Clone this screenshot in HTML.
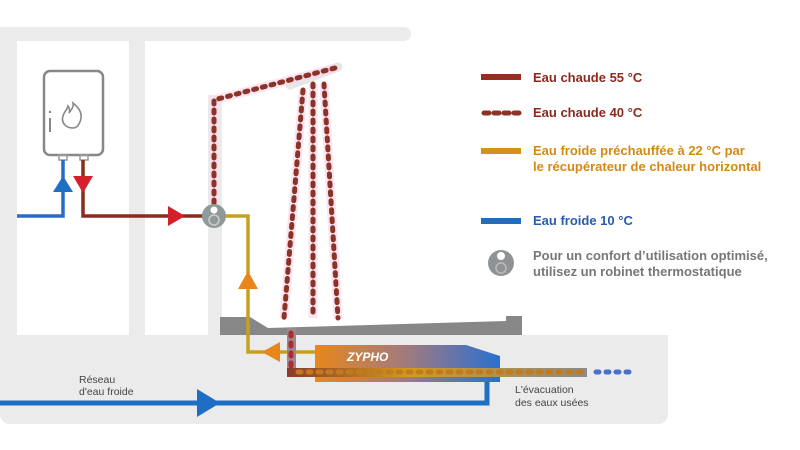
<!DOCTYPE html>
<html><head><meta charset="utf-8"><style>
html,body{margin:0;padding:0;background:#fff;width:800px;height:450px;overflow:hidden}
svg{display:block}
text{font-family:"Liberation Sans",sans-serif}
</style></head><body>
<svg width="800" height="450" viewBox="0 0 800 450" xmlns="http://www.w3.org/2000/svg">
<defs>
<linearGradient id="zg" x1="0" x2="1" y1="0" y2="0">
<stop offset="0" stop-color="#e8861c"/><stop offset="0.5" stop-color="#a07a80"/><stop offset="1" stop-color="#2a6fd0"/>
</linearGradient>
<linearGradient id="dg" x1="0" x2="1" y1="0" y2="0">
<stop offset="0" stop-color="#8a3b2a"/><stop offset="0.4" stop-color="#d49a1a"/><stop offset="1" stop-color="#8a8a8a"/>
</linearGradient>
</defs>
<path d="M0 27 H404 a7 7 0 0 1 0 14 H145 V335 H129 V41 H17 V335 H0 Z" fill="#ebebeb"/>
<rect x="208" y="95" width="14" height="240" fill="#ebebeb"/>
<path d="M0 335 H668 V414 a10 10 0 0 1 -10 10 H10 a10 10 0 0 1 -10 -10 Z" fill="#ebebeb"/>
<path d="M220 317 H250 L268 328 L506 321 V316 H522 V335 H220 Z" fill="#878787"/>
<path d="M290 85 L338 67" stroke="#e6e6e6" stroke-width="9" stroke-linecap="round"/>
<rect x="44" y="71" width="59" height="84" rx="6" fill="#fff" stroke="#888" stroke-width="2.5"/>
<line x1="50" y1="118" x2="50" y2="132" stroke="#888" stroke-width="2"/>
<circle cx="50" cy="112" r="1.2" fill="#888"/>
<path d="M73 128 c-8 0 -12 -6 -10 -12 c1 -4 4 -6 5 -10 c2 3 2 5 1 7 c2 -3 5 -6 4 -10 c5 4 9 9 8 15 c-1 6 -4 10 -8 10 Z" fill="none" stroke="#888" stroke-width="1.6"/>
<rect x="59" y="155" width="8" height="5" fill="none" stroke="#999" stroke-width="1.5"/>
<rect x="80" y="155" width="8" height="5" fill="none" stroke="#999" stroke-width="1.5"/>
<polyline points="17,216 63,216 63,160" fill="none" stroke="#2a6ac8" stroke-width="3.5"/>
<polygon points="53,192 73,192 63,176" fill="#1e6fc4"/>
<polyline points="83,160 83,216 205,216" fill="none" stroke="#8c2a20" stroke-width="3.5"/>
<polygon points="73,176 93,176 83,193" fill="#d4202a"/>
<polygon points="168,206 168,226 185,216" fill="#d4202a"/>
<polyline points="222,216 248,216 248,352 316,352" fill="none" stroke="#c8a020" stroke-width="3.5"/>
<polygon points="238,289 258,289 248,271" fill="#e8861c"/>
<polygon points="280,342 280,362 262,352" fill="#e8861c"/>
<g fill="none" stroke="#fbd8ec" stroke-width="9" opacity="0.7">
<polyline points="214,203 214,100 335,68"/>
<line x1="303" y1="90" x2="284" y2="318"/>
<line x1="313" y1="84" x2="313" y2="318"/>
<line x1="324" y1="84" x2="338" y2="318"/>
</g>
<g fill="none" stroke="#8a3326" stroke-width="5" stroke-dasharray="3 6" stroke-linecap="round">
<polyline points="214,203 214,100 335,68"/>
<line x1="303" y1="90" x2="284" y2="318"/>
<line x1="313" y1="84" x2="313" y2="318"/>
<line x1="324" y1="84" x2="338" y2="318"/>
</g>
<path d="M315 345 H466 L500 356 V382 H315 Z" fill="url(#zg)"/>
<text x="347" y="361" font-size="12" font-weight="bold" font-style="italic" fill="#fff">ZYPHO</text>
<rect x="287" y="328" width="9" height="48" fill="#9a8890"/>
<rect x="287" y="368" width="300" height="9" fill="url(#dg)"/>
<g fill="none" stroke-width="5" stroke-dasharray="3 7" stroke-linecap="round">
<line x1="291" y1="333" x2="291" y2="368" stroke="#b02a30"/>
<line x1="298" y1="372" x2="587" y2="372" stroke="#c07a20"/>
<line x1="596" y1="372" x2="632" y2="372" stroke="#4a6fc8"/>
</g>
<polyline points="0,403 487,403 487,382" fill="none" stroke="#1e6fc4" stroke-width="5"/>
<polygon points="197,389 197,417 220,403" fill="#1e6fc4"/>
<circle cx="214" cy="216" r="12" fill="#8f9a98"/>
<circle cx="214" cy="210" r="3.5" fill="#fff"/>
<circle cx="214" cy="220" r="5" fill="none" stroke="#ccc" stroke-width="1.5"/>
<text x="79" y="383" font-size="10.5" fill="#444">Réseau</text>
<text x="79" y="395" font-size="10.5" fill="#444">d'eau froide</text>
<text x="515" y="393" font-size="10.5" fill="#444">L'évacuation</text>
<text x="515" y="406" font-size="10.5" fill="#444">des eaux usées</text>
<rect x="481" y="74" width="40" height="6" fill="#9b2b22"/>
<text x="533" y="82" font-size="13" font-weight="bold" fill="#8c2a20">Eau chaude 55 °C</text>
<line x1="484" y1="113" x2="520" y2="113" stroke="#8a3326" stroke-width="5" stroke-dasharray="5 5" stroke-linecap="round"/>
<text x="533" y="117" font-size="13" font-weight="bold" fill="#8c2a20">Eau chaude 40 °C</text>
<rect x="481" y="148" width="40" height="6" fill="#d4921a"/>
<text x="533" y="155" font-size="13" font-weight="bold" fill="#d48a10">Eau froide préchauffée à 22 °C par</text>
<text x="533" y="171" font-size="13" font-weight="bold" fill="#d48a10">le récupérateur de chaleur horizontal</text>
<rect x="481" y="218" width="40" height="6" fill="#1e6fc4"/>
<text x="533" y="225" font-size="13" font-weight="bold" fill="#2a5ab0">Eau froide 10 °C</text>
<circle cx="501" cy="263" r="13" fill="#8f9395"/>
<circle cx="501" cy="256" r="4" fill="#fff"/>
<circle cx="501" cy="268" r="5" fill="none" stroke="#bbb" stroke-width="1.5"/>
<text x="533" y="260" font-size="13" font-weight="bold" fill="#777">Pour un confort d’utilisation optimisé,</text>
<text x="533" y="276" font-size="13" font-weight="bold" fill="#777">utilisez un robinet thermostatique</text>
</svg>
</body></html>
